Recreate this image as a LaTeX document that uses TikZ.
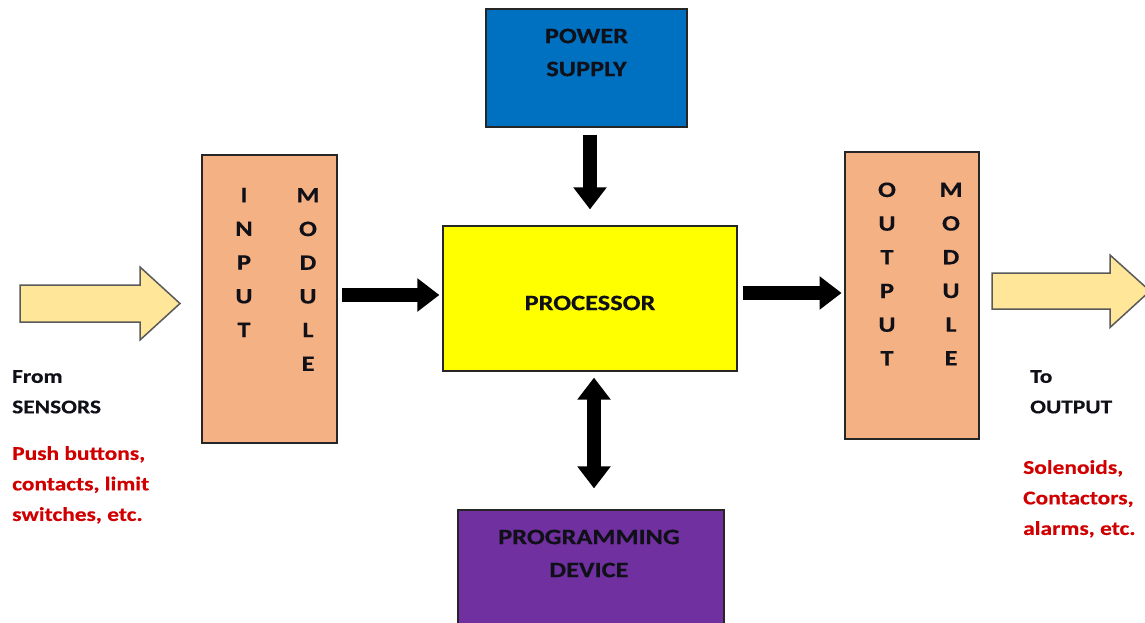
\documentclass[tikz,border=0pt]{standalone}
\usepackage{fontspec}
\setmainfont[FakeStretch=1.2,FakeBold=0.4]{Carlito}
\usetikzlibrary{arrows.meta,calc}
\definecolor{psblue}{HTML}{0070C0}
\definecolor{procyel}{HTML}{FFFF00}
\definecolor{progpur}{HTML}{7030A0}
\definecolor{modsalmon}{HTML}{F4B183}
\definecolor{bigarrow}{HTML}{FFE699}
\definecolor{redtext}{HTML}{D00000}
\definecolor{darktext}{HTML}{101018}
\begin{document}
\begin{tikzpicture}[x=1pt,y=-1pt,
  block/.style={draw=black!85, line width=1.2pt, inner sep=0pt},
  lbl/.style={font=\bfseries\fontsize{22}{33}\selectfont, text=darktext, align=center, inner sep=0pt},
  col/.style={font=\bfseries\fontsize{22}{33.7}\selectfont, text=darktext, align=center, inner sep=0pt},
  side/.style={font=\bfseries\fontsize{19.5}{30.5}\selectfont, align=left, anchor=north west, inner sep=0pt},
  flow/.style={line width=14pt, -{Triangle[length=22pt,width=32pt]}},
  duplex/.style={line width=14pt, {Triangle[length=22pt,width=32pt]}-{Triangle[length=22pt,width=32pt]}},
  fat/.style={fill=bigarrow, draw=black!65, line width=1.5pt, line join=miter}
]
\useasboundingbox (0,0) rectangle (1145,623);
\clip (0,0) rectangle (1145,623);

% main blocks
\node[block, fill=psblue, minimum width=201pt, minimum height=118pt] (power) at (586.5,68) {};
\node[lbl] (powertxt) at (586.5,52.5) {POWER\\SUPPLY};

\node[block, fill=procyel, minimum width=294pt, minimum height=145pt] (proc) at (590,298.5) {};
\node[lbl] (proctxt) at (590,303) {PROCESSOR};

\node[block, fill=progpur, minimum width=266pt, minimum height=120pt] (prog) at (591,570) {};
\node[lbl] (progtxt) at (589,553.5) {PROGRAMMING\\DEVICE};

\node[block, fill=modsalmon, minimum width=135pt, minimum height=288pt] (inmod) at (269.5,299) {};
\node[col] (incol1) at (244,262.5) {I\\N\\P\\U\\T};
\node[col] (incol2) at (308,279.5) {M\\O\\D\\U\\L\\E};

\node[block, fill=modsalmon, minimum width=134pt, minimum height=287pt] (outmod) at (912,295.5) {};
\node[col] (outcol1) at (887,274) {O\\U\\T\\P\\U\\T};
\node[col] (outcol2) at (951,274) {M\\O\\D\\U\\L\\E};

% black connectors between blocks
\draw[flow] ($(power.south -| proc.north)+(0,7)$) -- ($(proc.north)+(0,-16)$);
\draw[duplex] ($(proc.south)+(4,6)$) -- ($(prog.north)+(3,-21)$);
\draw[flow] ($(inmod.east)+(4,-4)$) -- ($(proc.west)+(-3,-3.5)$);
\draw[flow] ($(proc.east)+(5,-5.5)$) -- ($(outmod.east)+(-138,-2.5)$);

% wide input / output arrows
\coordinate (inTail) at (20,303.5);
\coordinate (outTail) at (992,291);
\draw[fat] (inTail) ++(0,-18.5) -- ++(120,0) -- ++(0,-18) -- (180,303.5)
  -- (140,340) -- ++(0,-18) -- ++(-120,0) -- cycle;
\draw[fat] (outTail) ++(0,-18) -- ++(118,0) -- ++(0,-18) -- (1150,291)
  -- (1110,327.5) -- ++(0,-18.5) -- ++(-118,0) -- cycle;

% side captions
\node[side, text=darktext] (fromtxt) at (12,370) {From\\SENSORS};
\node[side, text=redtext] (inlist) at (12,446) {Push buttons,\\contacts, limit\\switches, etc.};
\node[side, text=darktext] (totxt) at (1030,370) {To\\OUTPUT};
\node[side, text=redtext] (outlist) at (1023,460) {Solenoids,\\Contactors,\\alarms, etc.};
\end{tikzpicture}
\end{document}
